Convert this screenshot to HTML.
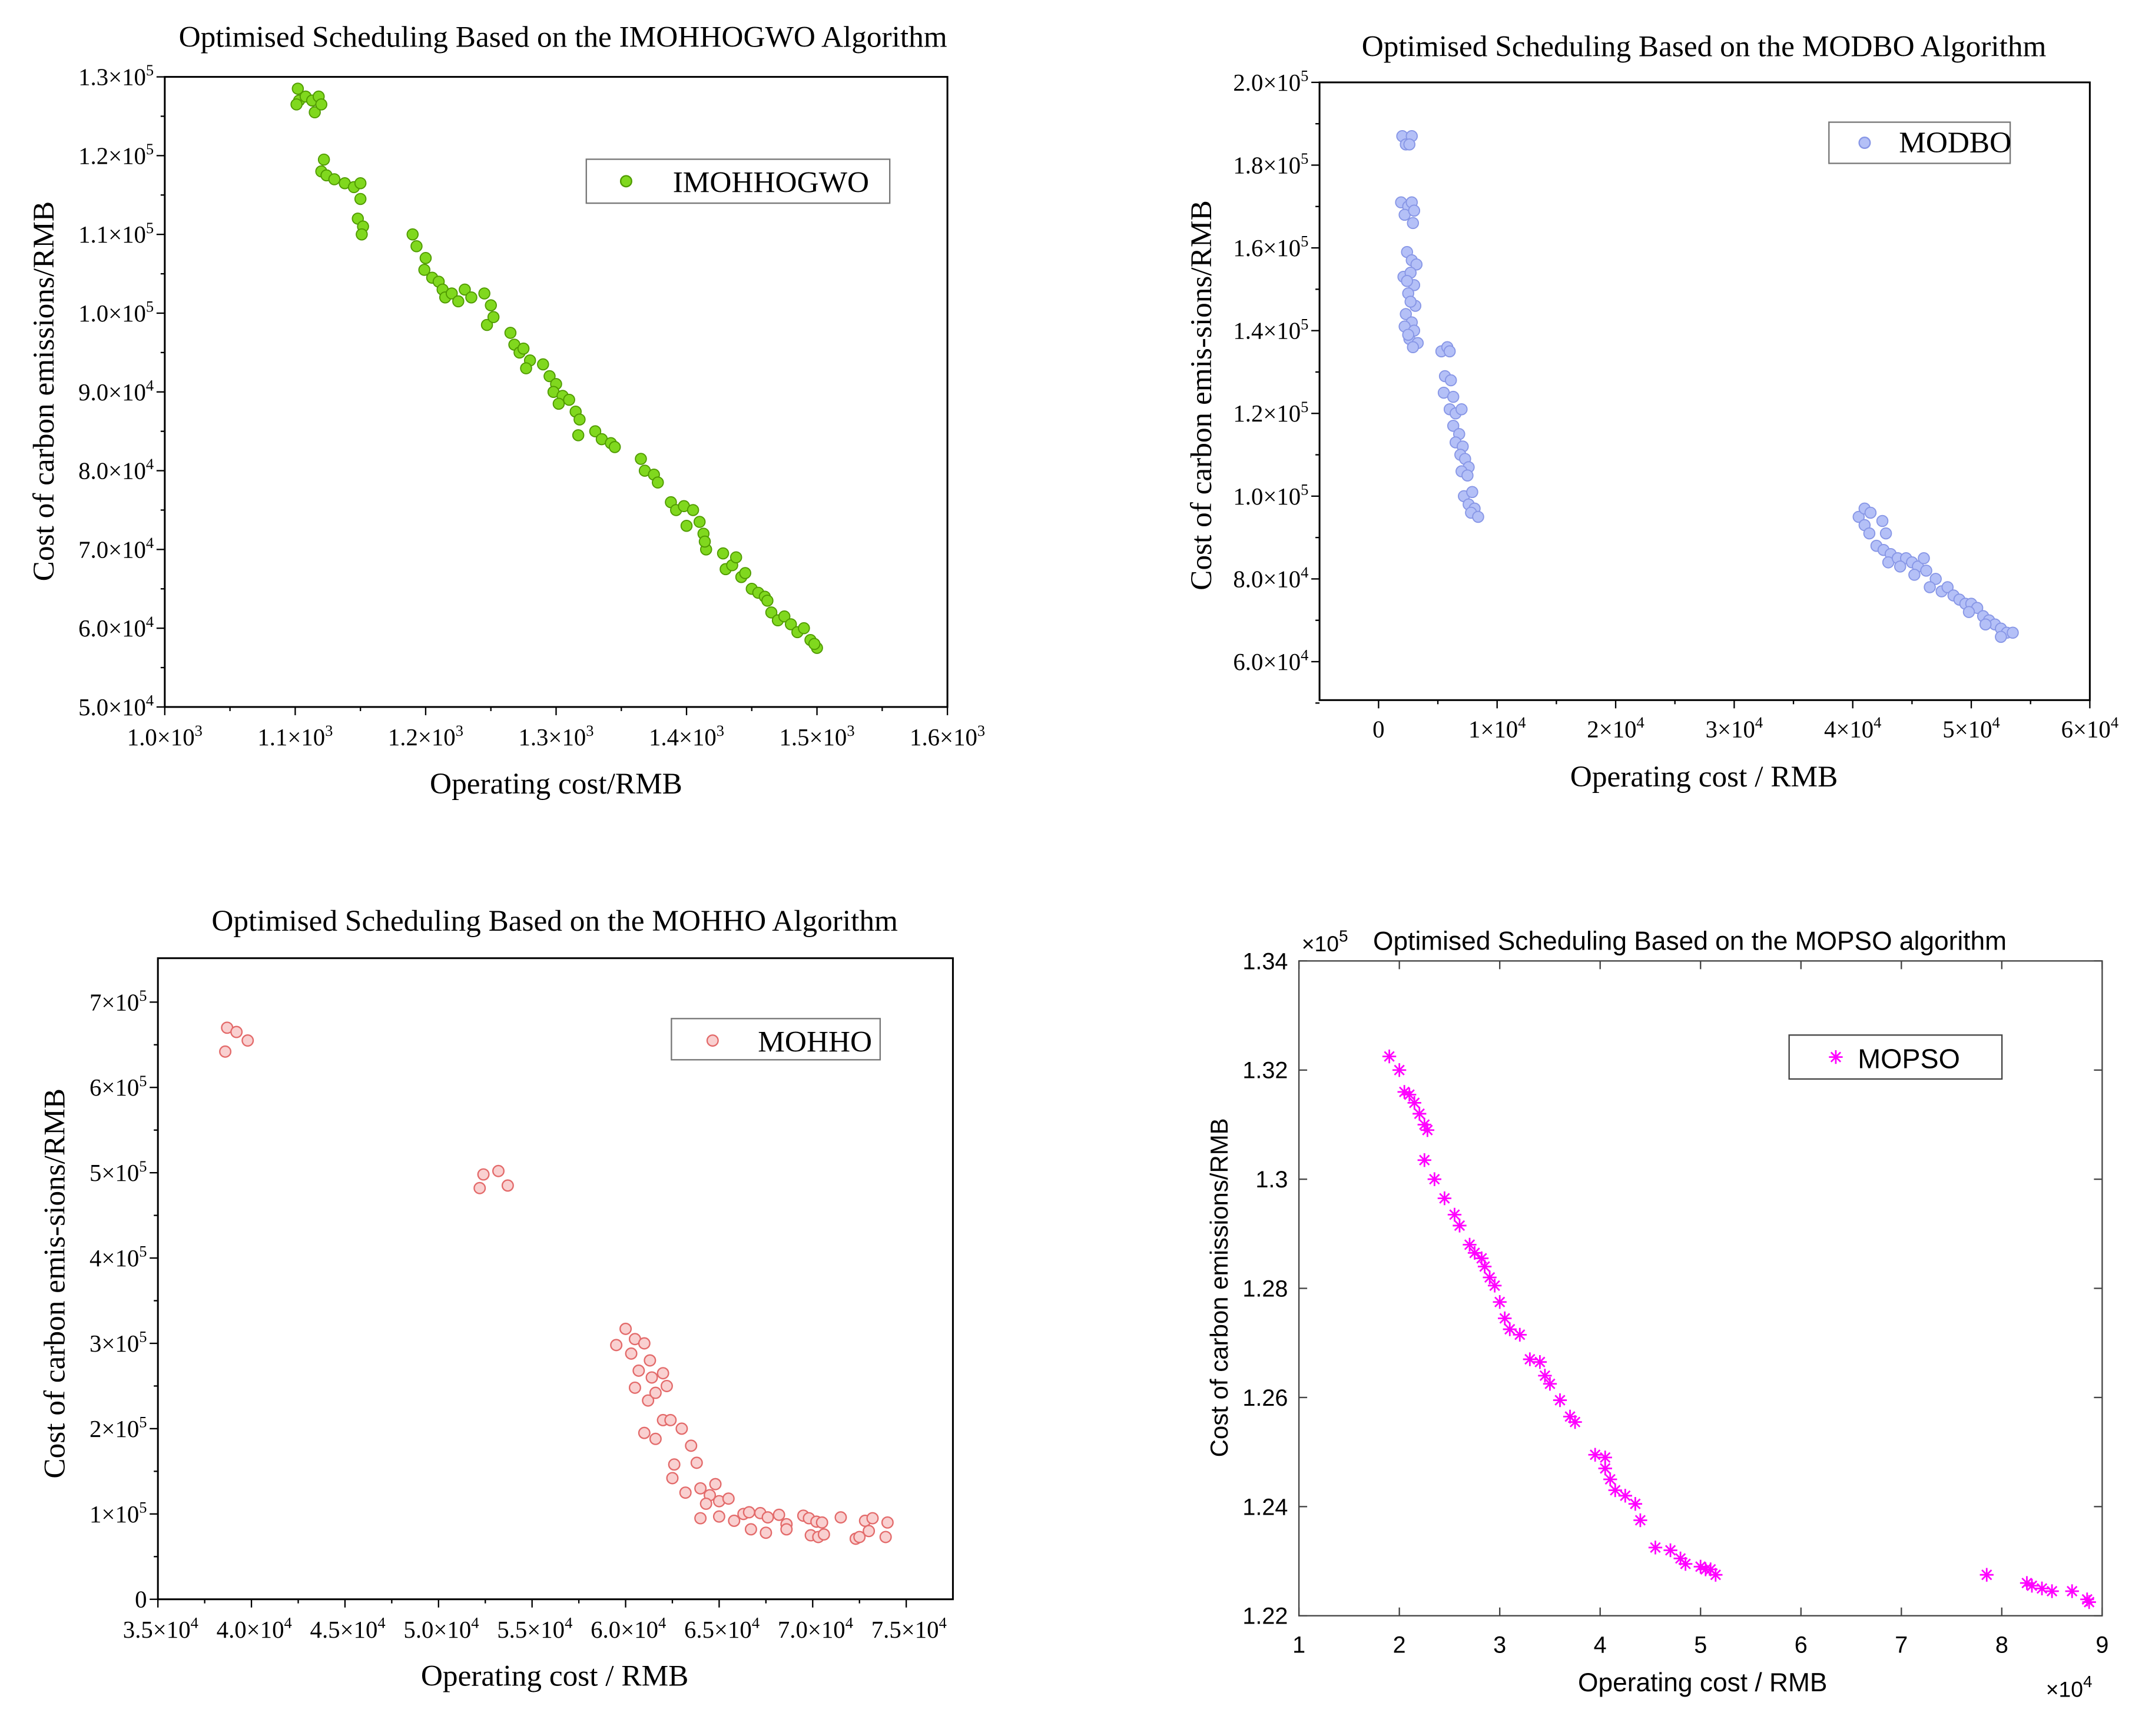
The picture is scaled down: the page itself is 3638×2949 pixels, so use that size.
<!DOCTYPE html>
<html><head><meta charset="utf-8"><style>html,body{margin:0;padding:0;background:#fff}svg{display:block}</style></head>
<body>
<svg id="chart" xmlns="http://www.w3.org/2000/svg" width="3638" height="2949" viewBox="0 0 1560 1264.6" preserveAspectRatio="none">
<rect width="1560" height="1265" fill="#fff"/>
</svg>
<script>
// ===== Data =====
const imoX=[1102,1103,1108,1113,1115,1118,1120,1101,1122,1120,1124,1130,1138,1145,1150,1150,1148,1152,1151,1190,1193,1200,1199,1205,1210,1213,1215,1220,1225,1230,1235,1245,1250,1247,1252,1265,1268,1272,1275,1280,1277,1290,1295,1300,1298,1305,1302,1310,1315,1318,1317,1330,1335,1342,1345,1365,1368,1375,1378,1388,1392,1398,1400,1405,1410,1413,1415,1414,1428,1430,1435,1438,1442,1445,1450,1455,1460,1462,1465,1470,1475,1480,1485,1490,1495,1500,1498];
const imoY=[12.85,12.7,12.75,12.7,12.55,12.75,12.65,12.65,11.95,11.8,11.75,11.7,11.65,11.6,11.65,11.45,11.2,11.1,11.0,11.0,10.85,10.7,10.55,10.45,10.4,10.3,10.2,10.25,10.15,10.3,10.2,10.25,10.1,9.85,9.95,9.75,9.6,9.5,9.55,9.4,9.3,9.35,9.2,9.1,9.0,8.95,8.85,8.9,8.75,8.65,8.45,8.5,8.4,8.35,8.3,8.15,8.0,7.95,7.85,7.6,7.5,7.55,7.3,7.5,7.35,7.2,7.0,7.1,6.95,6.75,6.8,6.9,6.65,6.7,6.5,6.45,6.4,6.35,6.2,6.1,6.15,6.05,5.95,6.0,5.85,5.75,5.8];
const dboX=[2.0,2.3,2.8,2.6,1.9,2.5,2.8,2.2,2.9,3.0,2.4,2.8,3.2,2.1,2.7,3.0,2.5,3.1,2.3,2.8,2.2,3.0,2.6,3.3,2.9,2.5,2.7,2.4,5.3,5.8,6.0,5.6,6.1,5.5,6.3,6.0,6.5,7.0,6.3,6.8,6.5,7.1,6.9,7.3,7.6,7.0,7.5,7.2,7.9,7.6,8.1,7.8,8.4,40.5,41.0,41.5,41.0,41.4,42.5,42.8,42.0,42.6,43.2,43.0,43.8,44.5,44.0,45.0,45.5,46.0,45.2,46.2,47.0,46.5,47.5,48.0,48.5,49.0,49.5,50.0,50.5,51.0,51.5,52.0,52.5,53.0,52.5,53.5,49.8,51.2];
const dboY=[18.7,18.5,18.7,18.5,17.1,17.0,17.1,16.8,16.6,16.9,15.9,15.7,15.6,15.3,15.4,15.1,14.9,14.6,14.4,14.2,14.1,14.0,13.8,13.7,13.6,13.9,14.7,15.2,13.5,13.6,13.5,12.9,12.8,12.5,12.4,12.1,12.0,12.1,11.7,11.5,11.3,11.2,11.0,10.9,10.7,10.6,10.5,10.0,10.1,9.8,9.7,9.6,9.5,9.5,9.7,9.6,9.3,9.1,9.4,9.1,8.8,8.7,8.6,8.4,8.5,8.5,8.3,8.4,8.3,8.5,8.1,8.2,8.0,7.8,7.7,7.8,7.6,7.5,7.4,7.4,7.3,7.1,7.0,6.9,6.8,6.7,6.6,6.7,7.2,6.9];
const hhoX=[38.7,39.2,39.8,38.6,52.4,53.2,52.2,53.7,59.5,60.0,60.5,61.0,60.3,61.3,60.7,61.4,62.0,62.2,60.5,61.2,61.6,61.0,61.6,62.0,62.4,63.0,63.5,62.6,63.8,62.5,63.2,64.0,64.5,64.3,64.8,65.0,65.5,64.0,65.0,65.8,66.3,66.6,67.2,67.6,66.7,67.5,68.2,68.6,68.6,69.5,69.8,70.2,70.5,69.9,70.3,70.6,71.5,72.3,72.5,72.8,73.2,73.0,74.0,73.9];
const hhoY=[67,66.5,65.5,64.2,49.8,50.2,48.2,48.5,29.8,31.7,30.5,30.0,28.8,28,26.8,26,26.5,25,24.8,23.3,24.2,19.5,18.8,21,21,20,18,15.8,16,14.2,12.5,13.0,12.2,11.2,13.5,11.5,11.8,9.5,9.7,9.2,10.0,10.2,10.1,9.6,8.2,7.8,9.9,8.8,8.2,9.8,9.5,9.1,9.0,7.5,7.3,7.6,9.6,7.1,7.3,9.2,9.5,8.0,9.0,7.3];
const psoX=[1.9,2.0,2.05,2.1,2.15,2.2,2.25,2.28,2.25,2.35,2.45,2.55,2.6,2.7,2.75,2.82,2.85,2.9,2.95,3.0,3.05,3.1,3.2,3.3,3.4,3.45,3.5,3.6,3.7,3.75,3.95,4.05,4.05,4.1,4.15,4.25,4.35,4.4,4.55,4.7,4.8,4.85,5.0,5.05,5.1,5.15,7.85,8.25,8.3,8.4,8.5,8.7,8.85,8.87];
const psoY=[1.3225,1.320,1.316,1.3155,1.314,1.312,1.310,1.309,1.3035,1.300,1.2965,1.2935,1.2915,1.288,1.2865,1.2855,1.284,1.282,1.2805,1.2775,1.2745,1.2725,1.2715,1.267,1.2665,1.264,1.2625,1.2595,1.2565,1.2555,1.2495,1.249,1.247,1.245,1.243,1.242,1.2405,1.2375,1.2325,1.232,1.2305,1.2295,1.229,1.2285,1.2285,1.2275,1.2275,1.226,1.2255,1.225,1.2245,1.2245,1.223,1.2225];

const svg=document.getElementById('chart');
const NS='http://www.w3.org/2000/svg';
function mk(tag,at,parent){const e=document.createElementNS(NS,tag);for(const k in at)e.setAttribute(k,at[k]);(parent||svg).appendChild(e);return e;}
function lin(d0,d1,r0,r1){return v=>r0+(v-d0)*(r1-r0)/(d1-d0);}
function txt(x,y,s,size,fam,anchor,parent){const t=mk('text',{x:x,y:y,'font-size':size,'font-family':fam,'text-anchor':anchor||'middle',fill:'#000'},parent);t.textContent=s;return t;}
function sci(x,y,m,e,size,anchor,parent){
  const t=mk('text',{x:x,y:y,'font-size':size,'font-family':'Liberation Serif, serif','text-anchor':anchor,fill:'#000'},parent);
  if(e===null){t.textContent=m;return t;}
  const a=document.createElementNS(NS,'tspan');a.textContent=m+'×10';t.appendChild(a);
  const b=document.createElementNS(NS,'tspan');b.setAttribute('dy','-7');b.setAttribute('font-size',size*0.65);b.textContent=e;t.appendChild(b);
  return t;}
const serif='Liberation Serif, serif', sans='Liberation Sans, sans-serif';
const TS=17.5;

// ===== Panel 1 =====
(function(){
 const g=mk('g',{});
 const x=lin(1000,1600,120,690), y=lin(5,13,515,56);
 mk('rect',{x:120,y:56,width:570,height:459,fill:'none',stroke:'#000','stroke-width':1.3},g);
 const xt=['1.0','1.1','1.2','1.3','1.4','1.5','1.6'];
 for(let i=0;i<=12;i++){const v=1000+i*50,px=x(v);mk('line',{x1:px,x2:px,y1:515,y2:515+(i%2?3:6),stroke:'#000'},g);}
 xt.forEach((s,i)=>sci(x(1000+i*100),543,s,'3',TS,'middle',g));
 const yt=['5.0','6.0','7.0','8.0','9.0','1.0','1.1','1.2','1.3'],ye=['4','4','4','4','4','5','5','5','5'];
 for(let i=0;i<=16;i++){const v=5+i*0.5,py=y(v);mk('line',{x1:120,x2:120-(i%2?3:6),y1:py,y2:py,stroke:'#000'},g);}
 yt.forEach((s,i)=>sci(112,y(5+i)+6,s,ye[i],TS,'end',g));
 const tl=txt(410,34,'Optimised Scheduling Based on the IMOHHOGWO Algorithm',22,serif,'middle',g);
 const xl=txt(405,578,'Operating cost/RMB',22,serif,'middle',g);
 const yl=txt(0,0,'Cost of carbon emissions/RMB',22,serif,'middle',g);yl.setAttribute('transform','translate(39,285) rotate(-90)');
 imoX.forEach((v,i)=>{const c=mk('circle',{cx:x(v),cy:y(imoY[i]),r:4,fill:'#80d81e',stroke:'#4f9a00','stroke-width':0.8},g);});
 const lg=mk('g',{},g);
 mk('rect',{x:427,y:116,width:221,height:32,fill:'#fff',stroke:'#777'},lg);
 mk('circle',{cx:456,cy:132,r:4,fill:'#80d81e',stroke:'#4f9a00'},lg);
 txt(490,140,'IMOHHOGWO',22,serif,'start',lg);
})();

// ===== Panel 2 =====
(function(){
 const g=mk('g',{});
 const x=lin(0,60,1004,1522), y=lin(6,20,482,60);
 mk('rect',{x:961,y:60,width:561,height:450,fill:'none',stroke:'#000','stroke-width':1.3},g);
 for(let i=0;i<=12;i++){const v=i*5,px=x(v);mk('line',{x1:px,x2:px,y1:510,y2:510+(i%2?3:6),stroke:'#000'},g);}
 ['0','1','2','3','4','5','6'].forEach((s,i)=>sci(x(i*10),537,s,i?'4':null,TS,'middle',g));
 const yt=['6.0','8.0','1.0','1.2','1.4','1.6','1.8','2.0'],ye=['4','4','5','5','5','5','5','5'];
 for(let i=0;i<=15;i++){const v=5+i,py=y(v);if(py<60)continue;mk('line',{x1:961,x2:961-(i%2?6:3),y1:py,y2:py,stroke:'#000'},g);}
 yt.forEach((s,i)=>sci(953,y(6+2*i)+6,s,ye[i],TS,'end',g));
 const tl=txt(1241,41,'Optimised Scheduling Based on the MODBO Algorithm',22,serif,'middle',g);
 const xl=txt(1241,573,'Operating cost / RMB',22,serif,'middle',g);
 const yl=txt(0,0,'Cost of carbon emis-sions/RMB',22,serif,'middle',g);yl.setAttribute('transform','translate(882,288) rotate(-90)');
 dboX.forEach((v,i)=>{const c=mk('circle',{cx:x(v),cy:y(dboY[i]),r:4,fill:'#b4c0f7',stroke:'#8796e6','stroke-width':0.8},g);});
 const lg=mk('g',{},g);
 mk('rect',{x:1332,y:89,width:132,height:30,fill:'#fff',stroke:'#777'},lg);
 mk('circle',{cx:1358,cy:104,r:4,fill:'#b4c0f7',stroke:'#8796e6'},lg);
 txt(1383,111,'MODBO',22,serif,'start',lg);
})();

// ===== Panel 3 =====
(function(){
 const g=mk('g',{});
 const x=lin(35,75,115,660), y=lin(0,70,1165,730);
 mk('rect',{x:115,y:698,width:579,height:467,fill:'none',stroke:'#000','stroke-width':1.3},g);
 for(let i=0;i<=16;i++){const v=35+i*2.5,px=x(v);mk('line',{x1:px,x2:px,y1:1165,y2:1165+(i%2?3:6),stroke:'#000'},g);}
 ['3.5','4.0','4.5','5.0','5.5','6.0','6.5','7.0','7.5'].forEach((s,i)=>sci(x(35+5*i)+2,1193,s,'4',TS,'middle',g));
 for(let i=0;i<=14;i++){const v=i*5,py=y(v);mk('line',{x1:115,x2:115-(i%2?3:6),y1:py,y2:py,stroke:'#000'},g);}
 ['0','1','2','3','4','5','6','7'].forEach((s,i)=>sci(107,y(i*10)+6,s,i?'5':null,TS,'end',g));
 const tl=txt(404,678,'Optimised Scheduling Based on the MOHHO Algorithm',22,serif,'middle',g);
 const xl=txt(404,1228,'Operating cost / RMB',22,serif,'middle',g);
 const yl=txt(0,0,'Cost of carbon emis-sions/RMB',22,serif,'middle',g);yl.setAttribute('transform','translate(47,935) rotate(-90)');
 hhoX.forEach((v,i)=>{const c=mk('circle',{cx:x(v),cy:y(hhoY[i]),r:4,fill:'#f9d0d0',stroke:'#e36a6a','stroke-width':1},g);});
 const lg=mk('g',{},g);
 mk('rect',{x:489,y:742,width:152,height:30,fill:'#fff',stroke:'#777'},lg);
 mk('circle',{cx:519,cy:758,r:4,fill:'#f9d0d0',stroke:'#e36a6a'},lg);
 txt(552,766,'MOHHO',22,serif,'start',lg);
})();

// ===== Panel 4 =====
(function(){
 const g=mk('g',{});
 const x=lin(1,9,946,1531), y=lin(1.22,1.34,1177,700);
 mk('rect',{x:946,y:700,width:585,height:477,fill:'none',stroke:'#444','stroke-width':1},g);
 for(let i=1;i<=9;i++){const px=x(i);mk('line',{x1:px,x2:px,y1:1177,y2:1171,stroke:'#444'},g);mk('line',{x1:px,x2:px,y1:700,y2:706,stroke:'#444'},g);
  txt(px,1204,String(i),17,sans,'middle',g);}
 ['1.22','1.24','1.26','1.28','1.3','1.32','1.34'].forEach((s,i)=>{const py=y(1.22+0.02*i);mk('line',{x1:946,x2:952,y1:py,y2:py,stroke:'#444'},g);mk('line',{x1:1531,x2:1525,y1:py,y2:py,stroke:'#444'},g);txt(938,py+6,s,17,sans,'end',g);});
 const e5=txt(948,693,'×10',16,sans,'start',g);const s5=document.createElementNS(NS,'tspan');s5.setAttribute('dy','-7');s5.setAttribute('font-size','12');s5.textContent='5';e5.appendChild(s5);
 const e4=txt(1490,1236,'×10',16,sans,'start',g);const s4=document.createElementNS(NS,'tspan');s4.setAttribute('dy','-7');s4.setAttribute('font-size','12');s4.textContent='4';e4.appendChild(s4);
 const tl=txt(1000,692,'Optimised Scheduling Based on the MOPSO algorithm',19,sans,'start',g);
 const xl=txt(1240,1232,'Operating cost / RMB',19,sans,'middle',g);
 const yl=txt(0,0,'Cost of carbon emissions/RMB',18,sans,'middle',g);yl.setAttribute('transform','translate(894,938) rotate(-90)');
 function star(cx,cy,p){const s=mk('g',{stroke:'#ff00ff','stroke-width':1.2},p);const r=5;
  mk('line',{x1:cx-r,x2:cx+r,y1:cy,y2:cy},s);mk('line',{x1:cx,x2:cx,y1:cy-r,y2:cy+r},s);
  mk('line',{x1:cx-r*0.7,x2:cx+r*0.7,y1:cy-r*0.7,y2:cy+r*0.7},s);mk('line',{x1:cx-r*0.7,x2:cx+r*0.7,y1:cy+r*0.7,y2:cy-r*0.7},s);return s;}
 psoX.forEach((v,i)=>{const s=star(x(v),y(psoY[i]),g);});
 const lg=mk('g',{},g);
 mk('rect',{x:1303,y:754,width:155,height:32,fill:'#fff',stroke:'#444'},lg);
 star(1337,770,lg);
 txt(1353,778,'MOPSO',20,sans,'start',lg);
})();
</script>
</body></html>
